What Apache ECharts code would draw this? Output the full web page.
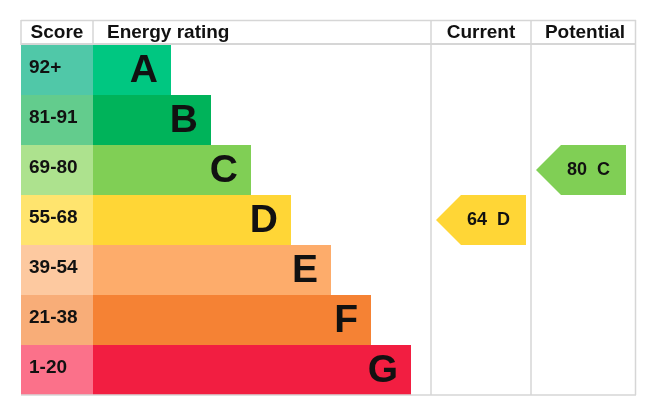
<!DOCTYPE html>
<html>
<head>
<meta charset="utf-8">
<script src="https://cdn.jsdelivr.net/npm/echarts@6/dist/echarts.min.js"></script>
<style>
html,body{margin:0;padding:0;background:#fff;}
#chart{width:671px;height:419px;}
</style>
</head>
<body>
<div id="chart"></div>
<script>
// ---- data ----
const bands = ['A', 'B', 'C', 'D', 'E', 'F', 'G'];
const scoreRanges = ['92+', '81-91', '69-80', '55-68', '39-54', '21-38', '1-20'];
const barEnds = [150, 190, 230, 270, 310, 350, 390];
const currentRating = { score: 64, band: 'D' };
const potentialRating = { score: 80, band: 'C' };
const headers = ['Score', 'Energy rating', 'Current', 'Potential'];

// ---- styles ----
const bandColors = ['#00c781', '#00b35a', '#80cf55', '#ffd636', '#fdac6b', '#f58234', '#f21e41'];
const scoreColors = ['#50c8a8', '#63cc8d', '#ade28e', '#ffe46e', '#fdc9a0', '#f8ad78', '#fb718a'];
const FONT = '"Liberation Sans", Arial, sans-serif';
const TXT = '#111111';
const LINE = '#d6d6d6';

// layout in axis units (x axis 0..615)
const scoreColEnd = 72;
const curArrow = [415, 505];
const potArrow = [515, 605];

const chart = echarts.init(document.getElementById('chart'), null, { renderer: 'canvas' });

function arrowItem(span, rating) {
  return function (params, api) {
    const i = bands.indexOf(rating.band);
    const h = api.size([0, 1])[1];
    const left = api.coord([span[0], i]);
    const right = api.coord([span[1], i]);
    const yc = left[1];
    const top = yc - h / 2, bot = yc + h / 2;
    const x0 = left[0], x1 = right[0];
    const d = h / 2;
    return {
      type: 'group',
      children: [
        {
          type: 'polygon',
          shape: { points: [[x0, yc], [x0 + d, top], [x1, top], [x1, bot], [x0 + d, bot]] },
          style: { fill: bandColors[i] }
        },
        {
          type: 'text',
          style: {
            text: rating.score + '  ' + rating.band,
            x: (x0 + d + x1) / 2 - 5, y: yc,
            align: 'center', verticalAlign: 'middle',
            font: 'bold 18px ' + FONT, fill: TXT
          }
        }
      ]
    };
  };
}

const option = {
  animation: false,
  grid: { left: 21, right: 35, top: 45, bottom: 24 },
  xAxis: { type: 'value', min: 0, max: 615, show: false },
  yAxis: { type: 'category', data: bands, inverse: true, show: false },
  graphic: [
    // table lines
    { type: 'line', shape: { x1: 21, y1: 20.5, x2: 636, y2: 20.5 }, style: { stroke: LINE, lineWidth: 1.5 }, z: 10 },
    { type: 'line', shape: { x1: 21, y1: 44, x2: 636, y2: 44 }, style: { stroke: LINE, lineWidth: 2 }, z: 10 },
    { type: 'line', shape: { x1: 21, y1: 395, x2: 636, y2: 395 }, style: { stroke: LINE, lineWidth: 1.5 }, z: 10 },
    { type: 'line', shape: { x1: 21, y1: 20, x2: 21, y2: 45 }, style: { stroke: LINE, lineWidth: 1.5 }, z: 10 },
    { type: 'line', shape: { x1: 93, y1: 20, x2: 93, y2: 45 }, style: { stroke: LINE, lineWidth: 1.5 }, z: 10 },
    { type: 'line', shape: { x1: 431, y1: 20, x2: 431, y2: 395 }, style: { stroke: LINE, lineWidth: 1.5 }, z: 10 },
    { type: 'line', shape: { x1: 531, y1: 20, x2: 531, y2: 395 }, style: { stroke: LINE, lineWidth: 1.5 }, z: 10 },
    { type: 'line', shape: { x1: 635.5, y1: 20, x2: 635.5, y2: 395 }, style: { stroke: LINE, lineWidth: 1.5 }, z: 10 },
    // headers
    { type: 'text', style: { text: headers[0], x: 57, y: 33, align: 'center', verticalAlign: 'middle', font: 'bold 19px ' + FONT, fill: TXT } },
    { type: 'text', style: { text: headers[1], x: 107, y: 33, align: 'left', verticalAlign: 'middle', font: 'bold 19px ' + FONT, fill: TXT } },
    { type: 'text', style: { text: headers[2], x: 481, y: 33, align: 'center', verticalAlign: 'middle', font: 'bold 19px ' + FONT, fill: TXT } },
    { type: 'text', style: { text: headers[3], x: 585, y: 33, align: 'center', verticalAlign: 'middle', font: 'bold 19px ' + FONT, fill: TXT } }
  ],
  series: [
    {
      type: 'custom',
      data: bands.map((b, i) => [i, barEnds[i]]),
      encode: { x: 1, y: 0 },
      renderItem: function (params, api) {
        const i = api.value(0);
        const end = api.value(1);
        const h = api.size([0, 1])[1];
        const c0 = api.coord([0, i]);
        const c1 = api.coord([scoreColEnd, i]);
        const c2 = api.coord([end, i]);
        const top = c0[1] - h / 2;
        return {
          type: 'group',
          children: [
            { type: 'rect', shape: { x: c0[0], y: top, width: c1[0] - c0[0], height: h }, style: { fill: scoreColors[i] } },
            { type: 'rect', shape: { x: c1[0], y: top, width: c2[0] - c1[0], height: h }, style: { fill: bandColors[i] } },
            { type: 'text', style: { text: scoreRanges[i], x: c0[0] + 8, y: c0[1] - 2, align: 'left', verticalAlign: 'middle', font: 'bold 19px ' + FONT, fill: TXT } },
            { type: 'text', style: { text: bands[i], x: c2[0] - 13, y: c0[1] + 1, align: 'right', verticalAlign: 'middle', font: 'bold 39px ' + FONT, fill: TXT } }
          ]
        };
      }
    },
    {
      type: 'custom',
      data: [[bands.indexOf(currentRating.band), currentRating.score]],
      encode: { y: 0 },
      renderItem: arrowItem(curArrow, currentRating)
    },
    {
      type: 'custom',
      data: [[bands.indexOf(potentialRating.band), potentialRating.score]],
      encode: { y: 0 },
      renderItem: arrowItem(potArrow, potentialRating)
    }
  ]
};
chart.setOption(option);
</script>
</body>
</html>
